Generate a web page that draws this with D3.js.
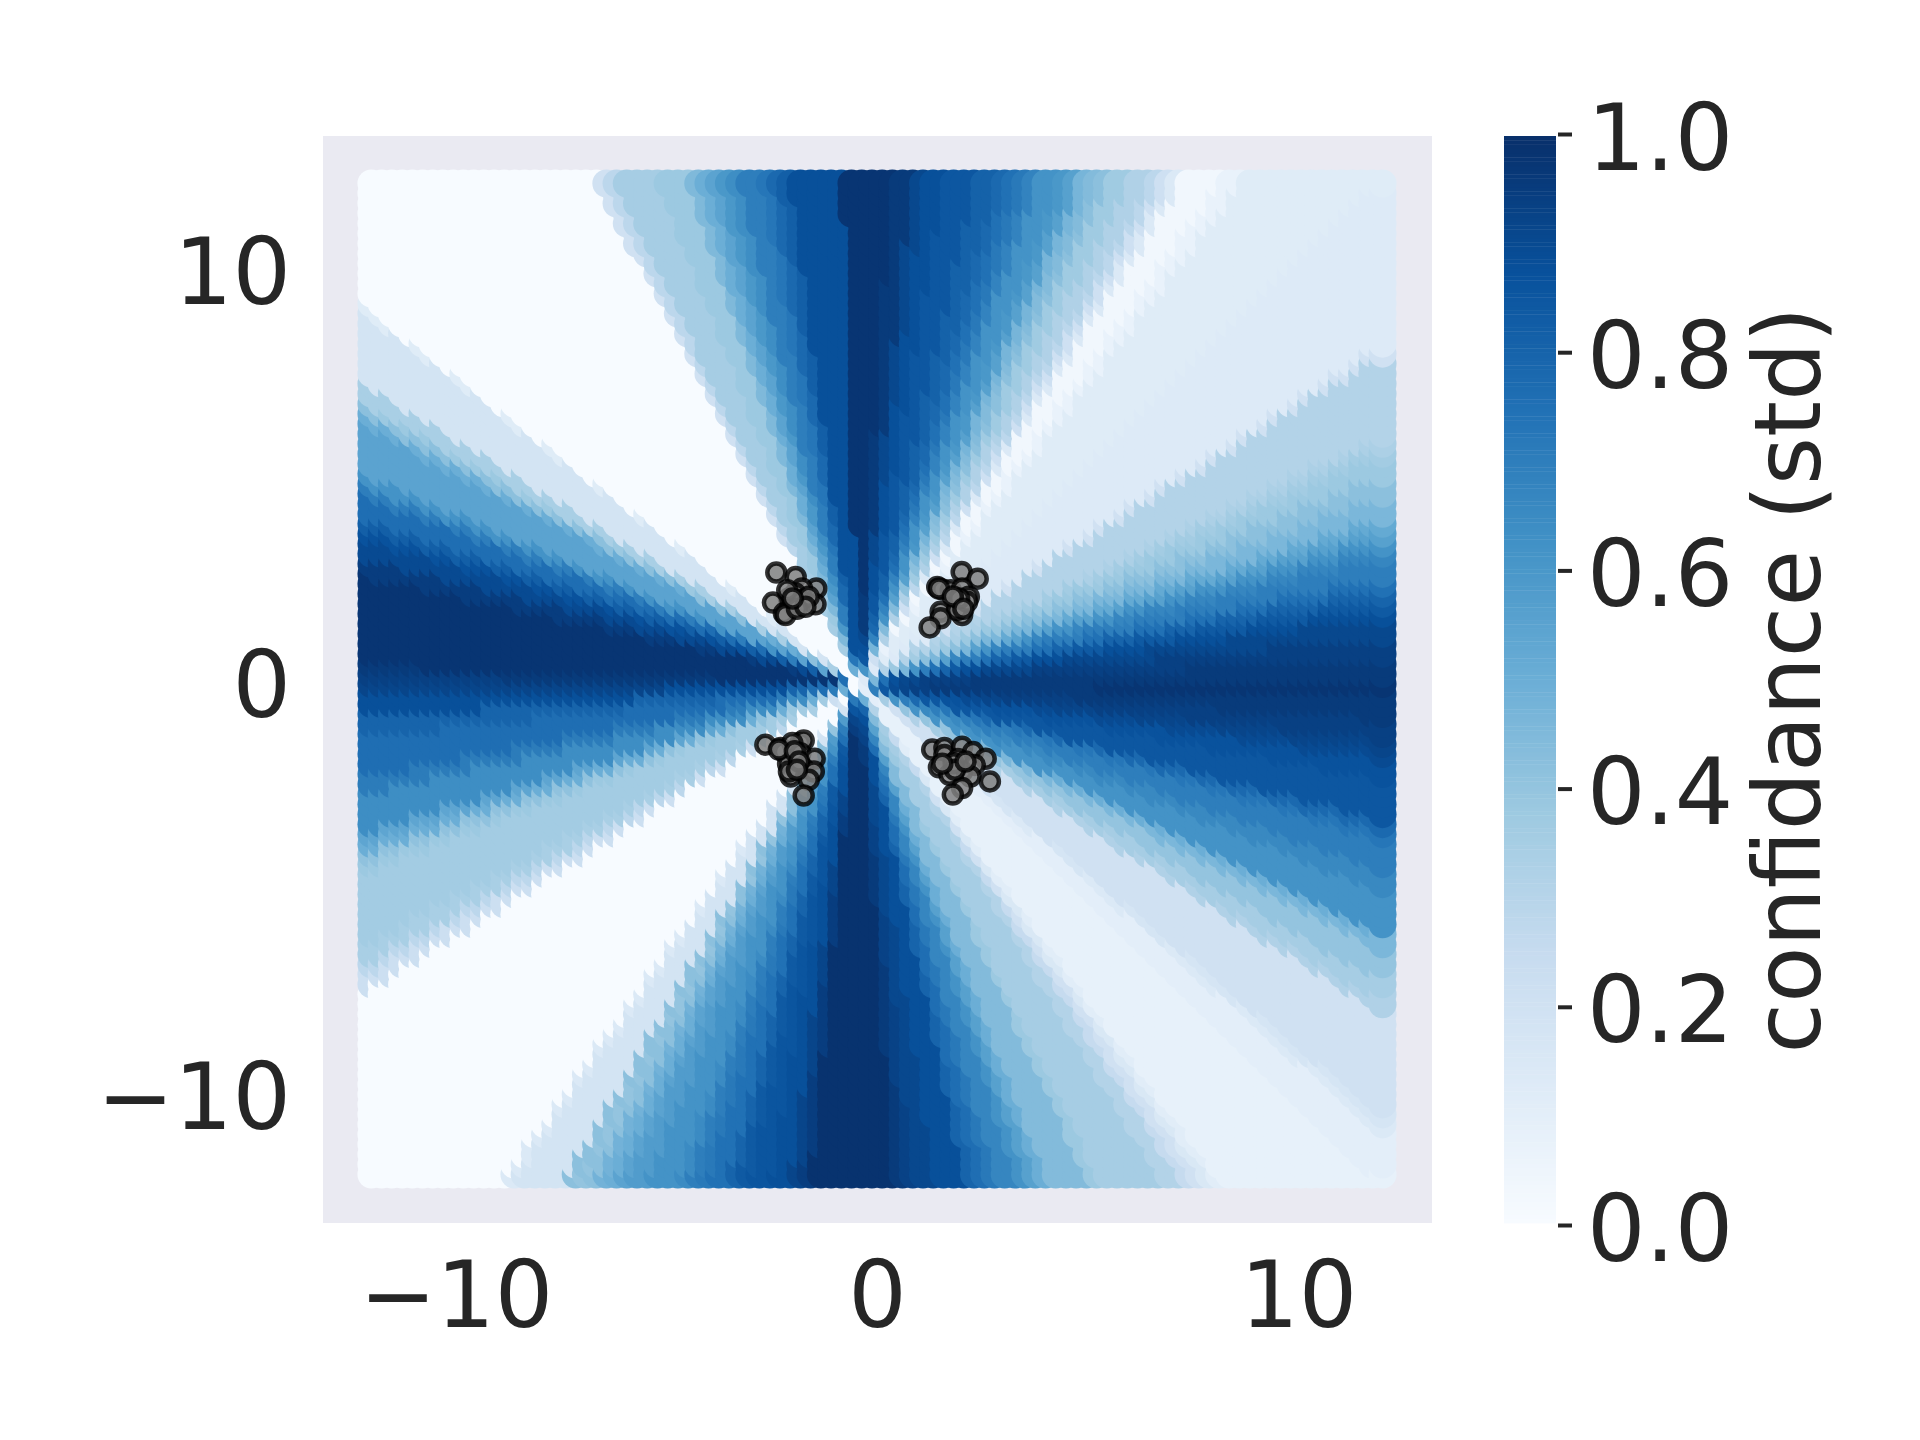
<!DOCTYPE html>
<html><head><meta charset="utf-8">
<script src="https://cdn.jsdelivr.net/npm/d3@7"></script>
<style>html,body{margin:0;background:#fff}svg{display:block}text{font-family:"DejaVu Sans";fill:#262626}</style>
</head><body><svg id="c" width="1920" height="1440"></svg>
<script>
// Grid cells take the band their ray from the convergence point hits: a piecewise lookup of these readings.
const topX=[-12,-6.45,-6.21,-5.97,-5.0,-4.29,-4.05,-3.79,-3.55,-3.31,-3.05,-2.58,-2.34,-2.1,-1.86,-0.63,0.5,0.98,1.29,1.77,2.5,3.0,3.24,3.48,3.72,3.96,4.48,4.72,4.95,5.19,5.43,5.66,6.14,6.64,6.88,7.11,7.35,8.25,8.75];
const topV=[0,0.2,0.28,0.35,0.38,0.45,0.5,0.55,0.6,0.64,0.7,0.73,0.78,0.82,0.88,0.98,0.96,0.91,0.88,0.85,0.81,0.78,0.75,0.72,0.68,0.62,0.6,0.56,0.47,0.44,0.42,0.37,0.32,0.28,0.21,0.14,0.03,0.07,0.12];
const bottomX=[-12,-8.63,-8.4,-7.19,-6.92,-6.69,-6.45,-6.21,-5.97,-5.74,-5.24,-4.52,-4.29,-4.05,-3.81,-3.34,-3.1,-2.81,-2.34,-1.86,-1.63,-1.39,0.58,0.82,1.06,1.53,2.24,2.48,2.77,3.0,3.48,3.72,3.95,4.19,5.14,5.43,6.88,7.35,7.59,7.83,8.06,8.28];
const bottomV=[0,0.14,0.18,0.42,0.4,0.42,0.48,0.5,0.55,0.58,0.62,0.65,0.7,0.72,0.75,0.8,0.84,0.86,0.88,0.92,0.95,0.99,0.96,0.93,0.91,0.88,0.8,0.76,0.72,0.67,0.62,0.56,0.5,0.44,0.38,0.35,0.31,0.25,0.2,0.15,0.11,0.08];
const rightY=[-12,-10.82,-10.58,-10.34,-7.92,-7.63,-7.15,-6.43,-6.18,-5.94,-4.98,-4.49,-3.77,-3.53,-3.29,-2.32,-1.84,-1.59,-1.35,-0.87,-0.27,0.05,0.58,1.06,1.55,1.79,2.03,2.27,2.51,3.0,3.24,3.48,3.72,3.96,4.44,4.93,5.43,5.68,5.92,7.85,8.09];
const rightV=[0.1,0.14,0.17,0.2,0.32,0.35,0.4,0.46,0.5,0.62,0.66,0.7,0.73,0.78,0.85,0.87,0.9,0.92,0.94,0.96,0.98,0.96,0.94,0.91,0.88,0.84,0.8,0.75,0.7,0.67,0.62,0.56,0.52,0.46,0.42,0.38,0.36,0.33,0.31,0.2,0.13];
const leftY=[-12,-7.49,-7.08,-6.84,-6.35,-4.59,-4.35,-4.11,-3.86,-3.62,-2.66,-2.25,-1.28,-0.8,-0.31,-0.07,0.17,0.41,2.58,3.0,3.48,3.72,3.96,4.52,4.76,5.05,6.21,6.45,6.69,6.8,7.25,8.95,9.1];
const leftV=[0,0.22,0.28,0.34,0.36,0.38,0.41,0.5,0.54,0.64,0.71,0.76,0.8,0.88,0.92,0.94,0.96,0.98,0.95,0.9,0.87,0.82,0.76,0.7,0.62,0.55,0.5,0.42,0.38,0.34,0.18,0.12,0];
const convergeX=[-0.25], convergeY=[0];

const pointsX=[-2.39,-1.93,-1.44,-1.78,-1.94,-2.09,-2.47,-1.46,-1.98,-2.21,-2.17,-1.82,-1.62,-2.13,-1.9,-1.7,-2.0,
 2.01,2.39,1.43,1.55,1.75,2.02,2.18,1.97,1.51,2.02,1.90,1.51,1.25,1.47,2.14,1.95,1.8,2.05,
 -2.65,-2.29,-2.21,-1.82,-1.74,-2.01,-1.82,-1.48,-2.11,-1.75,-1.50,-2.05,-1.62,-1.74,-2.09,-2.33,-1.95,-1.85,-1.9,
 1.31,1.60,2.02,2.28,1.60,1.92,2.58,1.47,2.32,2.02,1.72,2.22,2.68,2.02,1.80,1.82,1.85,2.1,1.55];
const pointsY=[2.58,2.47,2.19,2.19,2.07,1.95,1.85,1.81,1.79,1.59,1.55,1.91,1.99,2.15,1.7,1.75,1.95,
 2.59,2.43,2.23,2.17,2.15,2.19,1.99,1.81,1.63,1.55,1.67,1.47,1.25,2.19,1.87,1.95,2.0,1.7,
 -1.59,-1.67,-1.76,-1.55,-1.49,-1.55,-1.80,-1.93,-2.06,-2.16,-2.24,-2.36,-2.44,-2.82,-2.24,-1.71,-1.75,-2.0,-2.2,
 -1.71,-1.67,-1.64,-1.77,-1.84,-1.94,-1.93,-2.14,-2.08,-2.24,-2.32,-2.36,-2.48,-2.64,-2.80,-2.04,-2.2,-2.0,-2.05];

const xTicks=[-10,0,10], yTicks=[-10,0,10], cbTicks=[0,0.2,0.4,0.6,0.8,1.0];
const blues=["#f7fbff","#deebf7","#c6dbef","#9ecae1","#6baed6","#4292c6","#2171b5","#08519c","#08306b"];

const svg=d3.select("#c");
const ax={l:323,r:1431,t:136,b:1222};
const x=d3.scaleLinear().domain([-13.15,13.15]).range([ax.l,ax.r]);
const y=d3.scaleLinear().domain([-13.15,13.15]).range([ax.b,ax.t]);
const color=d3.scaleLinear().domain(blues.map((_,i)=>i/8)).range(blues).interpolate(d3.interpolateRgb);
const grid=d3.range(100).map(i=>-12+i*24/99);
const band=(xs,vs,c)=>vs[Math.max(0,d3.bisectRight(xs,c)-1)];
function lookup(px,py){
  const dx=px-convergeX[0], dy=py-convergeY[0];
  const tR=dx>0?(12-convergeX[0])/dx:Infinity, tL=dx<0?(-12-convergeX[0])/dx:Infinity;
  const tT=dy>0?(12-convergeY[0])/dy:Infinity, tB=dy<0?(-12-convergeY[0])/dy:Infinity;
  const t=Math.min(tR,tL,tT,tB);
  if(!isFinite(t)) return 0.6;
  const ex=convergeX[0]+dx*t, ey=convergeY[0]+dy*t;
  if(t===tT) return band(topX,topV,ex);
  if(t===tB) return band(bottomX,bottomV,ex);
  if(t===tR) return band(rightY,rightV,ey);
  return band(leftY,leftV,ey);
}
svg.append("rect").attr("x",ax.l).attr("y",ax.t).attr("width",ax.r-ax.l+1).attr("height",ax.b-ax.t+1).attr("fill","#eaeaf2");
const cells=[];
grid.forEach(gx=>grid.forEach(gy=>cells.push({x:gx,y:gy,v:lookup(gx,gy)})));
svg.append("g").selectAll("circle").data(cells).join("circle")
  .attr("cx",d=>x(d.x)).attr("cy",d=>y(d.y)).attr("r",14).attr("fill",d=>color(d.v));
svg.append("g").selectAll("circle").data(pointsX.map((p,i)=>({x:p,y:pointsY[i]}))).join("circle")
  .attr("cx",d=>x(d.x)).attr("cy",d=>y(d.y)).attr("r",9)
  .attr("fill","#808080").attr("fill-opacity",0.85)
  .attr("stroke","#000").attr("stroke-opacity",0.8).attr("stroke-width",4.5);

const FS=92, minus=d=>String(d).replace("-","\u2212");
const gx=svg.append("g").attr("transform",`translate(0,${ax.b})`)
  .call(d3.axisBottom(x).tickValues(xTicks).tickSize(0).tickFormat(minus));
gx.select(".domain").remove();
gx.selectAll("text").attr("y",105).attr("dy",0).attr("font-size",FS).attr("text-anchor","middle");
const gy=svg.append("g").attr("transform",`translate(${ax.l},0)`)
  .call(d3.axisLeft(y).tickValues(yTicks).tickSize(0).tickFormat(minus));
gy.select(".domain").remove();
gy.selectAll("text").attr("x",-32).attr("dy",37).attr("font-size",FS).attr("text-anchor","end");

// colour bar
const cb={l:1504,r:1556,t:136,b:1223};
const levels=d3.range(256).map(i=>i/255);
const cbBand=d3.scaleBand().domain(levels).range([cb.b,cb.t]);
svg.append("g").selectAll("rect").data(levels).join("rect")
  .attr("x",cb.l).attr("width",cb.r-cb.l)
  .attr("y",d=>cbBand(d)).attr("height",cbBand.bandwidth()+0.4)
  .attr("fill",d=>color(d));
const cbTickY=d3.scaleLinear().domain([0,1]).range([1225,134]);
const gc=svg.append("g").attr("transform",`translate(${cb.r},0)`)
  .call(d3.axisRight(cbTickY).tickValues(cbTicks).tickSize(16).tickFormat(d3.format(".1f")));
gc.select(".domain").remove();
gc.selectAll("line").attr("stroke","#262626").attr("stroke-width",4).attr("x1",2);
gc.selectAll("text").attr("x",31).attr("dy",35).attr("font-size",FS).attr("text-anchor","start");
svg.append("text").attr("transform","translate(1820,680) rotate(-90)").attr("text-anchor","middle")
  .attr("font-size",FS).text("confidance (std)");
</script></body></html>
